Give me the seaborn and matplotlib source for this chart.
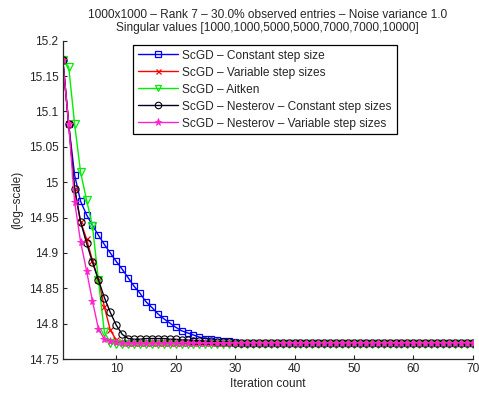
import matplotlib
matplotlib.use("Agg")
import matplotlib.pyplot as plt
import seaborn as sns
import numpy as np

iterations = list(range(1, 71))

constant_step = [15.173, 15.082, 15.010, 14.973, 14.954, 14.939, 14.925, 14.912, 14.900, 14.888,
                 14.877, 14.865, 14.853, 14.843, 14.831, 14.823, 14.814, 14.807, 14.801, 14.795,
                 14.790, 14.787, 14.784, 14.781, 14.779, 14.778, 14.777, 14.776, 14.775, 14.774,
                 14.773, 14.773, 14.773, 14.773, 14.773, 14.773, 14.773, 14.773, 14.773, 14.773,
                 14.773, 14.773, 14.773, 14.773, 14.773, 14.773, 14.773, 14.773, 14.773, 14.773,
                 14.773, 14.773, 14.773, 14.773, 14.773, 14.773, 14.773, 14.773, 14.773, 14.773,
                 14.773, 14.773, 14.773, 14.773, 14.773, 14.773, 14.773, 14.773, 14.773, 14.773]

variable_step = [15.173, 15.082, 14.990, 14.944, 14.920, 14.889, 14.862, 14.824, 14.791, 14.777,
                 14.774, 14.773, 14.773, 14.773, 14.773, 14.773, 14.773, 14.773, 14.773, 14.773,
                 14.773, 14.773, 14.773, 14.773, 14.773, 14.773, 14.773, 14.773, 14.773, 14.773,
                 14.773, 14.773, 14.773, 14.773, 14.773, 14.773, 14.773, 14.773, 14.773, 14.773,
                 14.773, 14.773, 14.773, 14.773, 14.773, 14.773, 14.773, 14.773, 14.773, 14.773,
                 14.773, 14.773, 14.773, 14.773, 14.773, 14.773, 14.773, 14.773, 14.773, 14.773,
                 14.773, 14.773, 14.773, 14.773, 14.773, 14.773, 14.773, 14.773, 14.773, 14.773]

aitken = [15.173, 15.163, 15.082, 15.014, 14.975, 14.938, 14.862, 14.788, 14.773, 14.771,
          14.771, 14.771, 14.771, 14.771, 14.771, 14.771, 14.771, 14.771, 14.771, 14.771,
          14.771, 14.771, 14.771, 14.771, 14.771, 14.771, 14.771, 14.771, 14.771, 14.771,
          14.771, 14.771, 14.771, 14.771, 14.771, 14.771, 14.771, 14.771, 14.771, 14.771,
          14.771, 14.771, 14.771, 14.771, 14.771, 14.771, 14.771, 14.771, 14.771, 14.771,
          14.771, 14.771, 14.771, 14.771, 14.771, 14.771, 14.771, 14.771, 14.771, 14.771,
          14.771, 14.771, 14.771, 14.771, 14.771, 14.771, 14.771, 14.771, 14.771, 14.771]

nesterov_constant = [15.173, 15.082, 14.991, 14.944, 14.914, 14.887, 14.862, 14.837, 14.816, 14.798,
                     14.785, 14.779, 14.778, 14.778, 14.779, 14.779, 14.779, 14.779, 14.778, 14.778,
                     14.777, 14.777, 14.776, 14.776, 14.775, 14.775, 14.774, 14.774, 14.774, 14.773,
                     14.773, 14.773, 14.773, 14.773, 14.773, 14.773, 14.773, 14.773, 14.773, 14.773,
                     14.773, 14.773, 14.773, 14.773, 14.773, 14.773, 14.773, 14.773, 14.773, 14.773,
                     14.773, 14.773, 14.773, 14.773, 14.773, 14.773, 14.773, 14.773, 14.773, 14.773,
                     14.773, 14.773, 14.773, 14.773, 14.773, 14.773, 14.773, 14.773, 14.773, 14.773]

nesterov_variable = [15.173, 15.082, 14.972, 14.916, 14.875, 14.832, 14.793, 14.778, 14.775, 14.774,
                     14.773, 14.773, 14.773, 14.773, 14.773, 14.773, 14.773, 14.773, 14.773, 14.773,
                     14.773, 14.773, 14.773, 14.773, 14.773, 14.773, 14.773, 14.773, 14.773, 14.773,
                     14.773, 14.773, 14.773, 14.773, 14.773, 14.773, 14.773, 14.773, 14.773, 14.773,
                     14.773, 14.773, 14.773, 14.773, 14.773, 14.773, 14.773, 14.773, 14.773, 14.773,
                     14.773, 14.773, 14.773, 14.773, 14.773, 14.773, 14.773, 14.773, 14.773, 14.773,
                     14.773, 14.773, 14.773, 14.773, 14.773, 14.773, 14.773, 14.773, 14.773, 14.773]

series_labels = ["ScGD – Constant step size",
                 "ScGD – Variable step sizes",
                 "ScGD – Aitken",
                 "ScGD – Nesterov – Constant step sizes",
                 "ScGD – Nesterov – Variable step sizes"]

y_ticks = [14.75, 14.8, 14.85, 14.9, 14.95, 15.0, 15.05, 15.1, 15.15, 15.2]
y_tick_labels = ["14.75", "14.8", "14.85", "14.9", "14.95", "15", "15.05", "15.1", "15.15", "15.2"]
x_ticks = [10, 20, 30, 40, 50, 60, 70]

title_text = ("1000x1000 – Rank 7 – 30.0% observed entries – Noise variance 1.0\n"
              "Singular values [1000,1000,5000,5000,7000,7000,10000]")

sns.set_style("ticks")
plt.rcParams['font.family'] = ['Liberation Sans', 'DejaVu Sans']
plt.rcParams['xtick.direction'] = 'in'
plt.rcParams['ytick.direction'] = 'in'

FS = 8.6

fig = plt.figure(figsize=(4.79, 3.95), dpi=100)
ax = fig.add_axes([0.131, 0.091, 0.856, 0.806])

styles = [
    dict(color="#0000ff", marker="s", markersize=4.6, mfc="none", mec="#0000ff", mew=0.9),
    dict(color="#ff0000", marker="x", markersize=4.0, mfc="none", mec="#ff0000", mew=0.9),
    dict(color="#00ee00", marker="v", markersize=5.2, mfc="none", mec="#00ee00", mew=0.9),
    dict(color="#000022", marker="o", markersize=5.2, mfc="none", mec="#000000", mew=0.8),
    dict(color="#ff22cc", marker="*", markersize=5.8, mfc="#ff22cc", mec="#ff22cc", mew=0.6),
]
all_series = [constant_step, variable_step, aitken, nesterov_constant, nesterov_variable]

for vals, lab, st in zip(all_series, series_labels, styles):
    sns.lineplot(x=iterations, y=vals, ax=ax, label=lab, linewidth=1.0,
                 color=st["color"], marker=st["marker"], markersize=st["markersize"],
                 markerfacecolor=st["mfc"], markeredgecolor=st["mec"],
                 markeredgewidth=st["mew"])

ax.set_xlim(1, 70)
ax.set_ylim(14.75, 15.2)
ax.set_xticks(x_ticks)
ax.set_xticklabels([str(t) for t in x_ticks], fontsize=FS)
ax.set_yticks(y_ticks)
ax.set_yticklabels(y_tick_labels, fontsize=FS)
ax.tick_params(length=3, width=0.8, pad=3)
for s in ["top", "right"]:
    ax.spines[s].set_visible(False)
for s in ["left", "bottom"]:
    ax.spines[s].set_linewidth(0.9)

ax.set_xlabel("Iteration count", fontsize=FS, labelpad=2)
ax.set_ylabel("(log–scale)", fontsize=FS, labelpad=4)
ax.set_title(title_text, fontsize=FS, pad=7, linespacing=1.15)

leg = ax.legend(loc="upper left", bbox_to_anchor=(0.171, 0.987), fontsize=FS,
                frameon=True, fancybox=False, framealpha=1, edgecolor="black",
                handlelength=3.4, handletextpad=0.35, labelspacing=0.42,
                borderpad=0.4, borderaxespad=0, markerscale=0.9)
leg.get_frame().set_linewidth(0.9)

fig.savefig("out.png", dpi=100)
